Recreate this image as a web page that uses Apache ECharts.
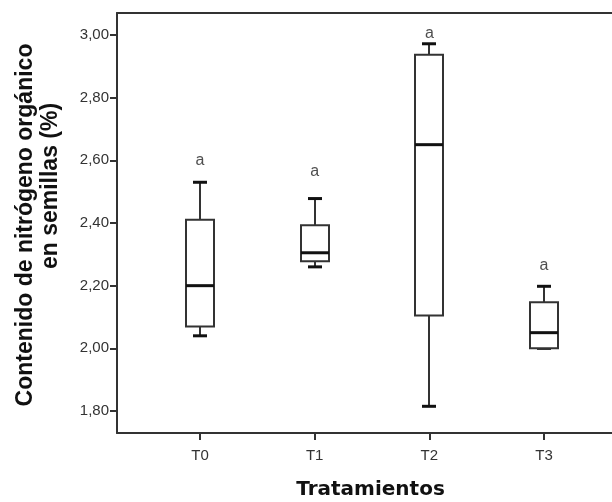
<!DOCTYPE html>
<html>
<head>
<meta charset="utf-8">
<script src="https://cdn.jsdelivr.net/npm/echarts@6/dist/echarts.min.js"></script>
</head>
<body style="margin:0;background:#fff">
<div id="main" style="width:612px;height:502px;"></div>
<script type="text/javascript">
// tratamientos y valores del diagrama de cajas (nitrogeno organico, %)
var categories = ['T0', 'T1', 'T2', 'T3'];
var minVals    = [2.04, 2.26, 1.815, 2.00];
var q1Vals     = [2.07, 2.278, 2.105, 2.00];
var medianVals = [2.20, 2.305, 2.65, 2.05];
var q3Vals     = [2.41, 2.393, 2.937, 2.147];
var maxVals    = [2.53, 2.478, 2.972, 2.198];
// letras de significancia y su altura (valor del eje y)
var letters    = ['a', 'a', 'a', 'a'];
var letterY    = [2.60, 2.565, 3.005, 2.265];
var yTicks     = [1.8, 2.0, 2.2, 2.4, 2.6, 2.8, 3.0];

var myChart = echarts.init(document.getElementById('main'));

var boxData = categories.map(function (c, i) {
  return [i, minVals[i], q1Vals[i], medianVals[i], q3Vals[i], maxVals[i]];
});
var letterData = categories.map(function (c, i) {
  return [i, letterY[i]];
});

function renderBox(params, api) {
  var x = api.value(0);
  var lo = api.coord([x, api.value(1)]);
  var q1 = api.coord([x, api.value(2)]);
  var md = api.coord([x, api.value(3)]);
  var q3 = api.coord([x, api.value(4)]);
  var hi = api.coord([x, api.value(5)]);
  var cx = Math.round(lo[0]);
  var bw = 28, cw = 14;
  var thin = {stroke: '#333', lineWidth: 2};
  var thick = {stroke: '#111', lineWidth: 3};
  return {
    type: 'group',
    children: [
      {type: 'line', shape: {x1: cx, y1: hi[1], x2: cx, y2: q3[1]}, style: thin},
      {type: 'line', shape: {x1: cx, y1: q1[1], x2: cx, y2: lo[1]}, style: thin},
      {type: 'line', shape: {x1: cx - cw / 2, y1: hi[1], x2: cx + cw / 2, y2: hi[1]}, style: thick},
      {type: 'line', shape: {x1: cx - cw / 2, y1: lo[1], x2: cx + cw / 2, y2: lo[1]}, style: thick},
      {type: 'rect', shape: {x: cx - bw / 2, y: q3[1], width: bw, height: q1[1] - q3[1]},
        style: {fill: '#fff', stroke: '#333', lineWidth: 2}},
      {type: 'line', shape: {x1: cx - bw / 2, y1: md[1], x2: cx + bw / 2, y2: md[1]}, style: thick}
    ]
  };
}

var axisLineStyle = {color: '#333', width: 2};

var option = {
  animation: false,
  backgroundColor: '#fff',
  grid: {left: 117, top: 13, right: 0, bottom: 69, outerBoundsMode: 'none', containLabel: false},
  xAxis: [{
    type: 'value',
    min: -0.724,
    max: 3.593,
    splitLine: {show: false},
    axisLine: {show: true, onZero: false, lineStyle: axisLineStyle},
    axisTick: {show: true, customValues: [0, 1, 2, 3], length: 7, lineStyle: axisLineStyle},
    axisLabel: {
      customValues: [0, 1, 2, 3],
      margin: 15,
      color: '#333',
      fontFamily: 'Liberation Sans, Arial, sans-serif',
      fontSize: 15,
      formatter: function (v) { return categories[Math.round(v)]; }
    },
    name: 'Tratamientos',
    nameLocation: 'middle',
    nameGap: 47,
    nameTextStyle: {
      color: '#111', fontWeight: 'bold', fontSize: 20,
      fontFamily: 'DejaVu Sans, sans-serif',
      padding: [0, 0, 0, 12]
    }
  }, {
    // borde superior del marco
    type: 'value',
    position: 'top',
    min: -0.724,
    max: 3.593,
    splitLine: {show: false},
    axisLine: {show: true, onZero: false, lineStyle: axisLineStyle},
    axisTick: {show: false},
    axisLabel: {show: false}
  }],
  yAxis: {
    type: 'value',
    min: 1.7298,
    max: 3.0702,
    splitLine: {show: false},
    axisLine: {show: true, onZero: false, lineStyle: axisLineStyle},
    axisTick: {show: true, customValues: yTicks, length: 7, lineStyle: axisLineStyle},
    axisLabel: {
      customValues: yTicks,
      margin: 8,
      color: '#333',
      fontFamily: 'Liberation Sans, Arial, sans-serif',
      fontSize: 15,
      formatter: function (v) { return v.toFixed(2).replace('.', ','); }
    }
  },
  graphic: [
    {
      type: 'text', x: 26, y: 225, rotation: Math.PI / 2,
      style: {
        text: 'Contenido de nitrógeno orgánico', align: 'center', verticalAlign: 'middle',
        font: 'bold 23px "Liberation Sans", Arial, sans-serif', fill: '#111'
      }
    },
    {
      type: 'text', x: 51, y: 186, rotation: Math.PI / 2,
      style: {
        text: 'en semillas (%)', align: 'center', verticalAlign: 'middle',
        font: 'bold 23px "Liberation Sans", Arial, sans-serif', fill: '#111'
      }
    }
  ],
  series: [
    {
      type: 'custom',
      renderItem: renderBox,
      data: boxData,
      encode: {x: 0, y: [1, 2, 3, 4, 5]},
      z: 3
    },
    {
      type: 'scatter',
      data: letterData,
      symbolSize: 0,
      label: {
        show: true,
        position: 'inside',
        color: '#222',
        fontFamily: 'Liberation Sans, Arial, sans-serif',
        fontSize: 16,
        formatter: function (p) { return letters[p.dataIndex]; }
      },
      z: 4
    }
  ]
};
myChart.setOption(option);
</script>
</body>
</html>
